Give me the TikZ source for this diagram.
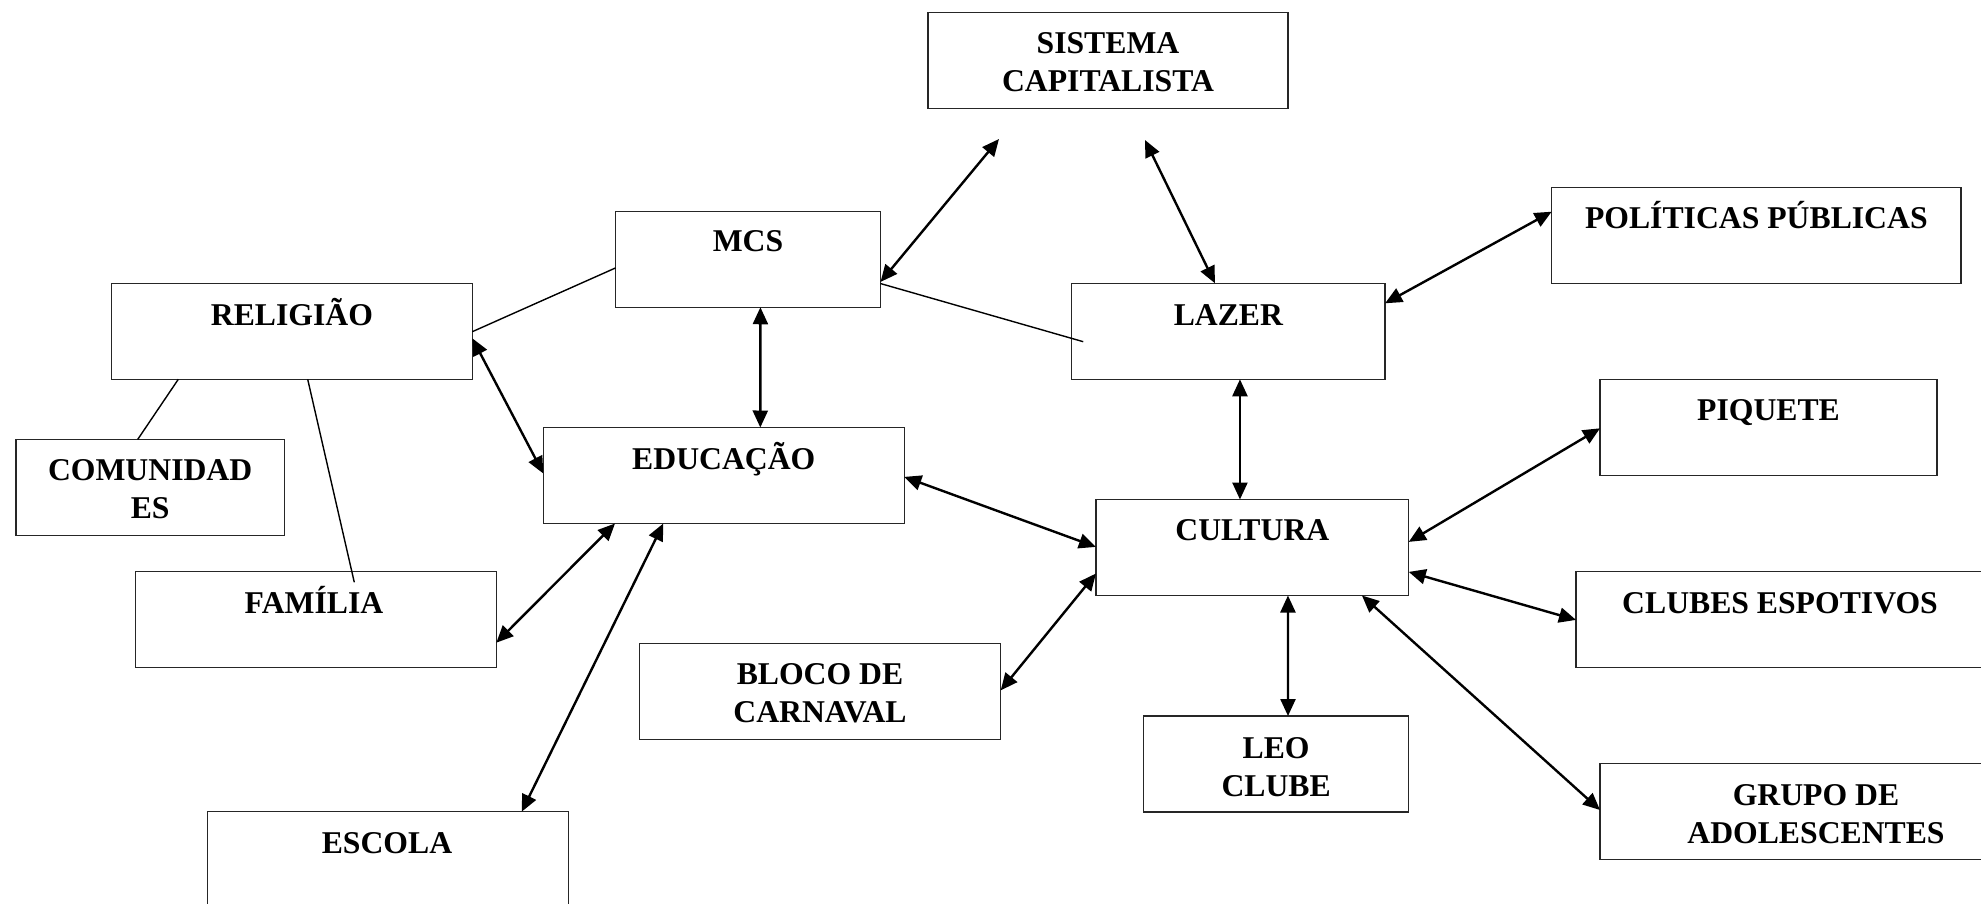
\documentclass[tikz,border=0pt]{standalone}
\usepackage{fontspec}
\setmainfont{Liberation Serif}
\usetikzlibrary{arrows.meta,calc}
\begin{document}
\begin{tikzpicture}[x={(0.5pt,0)},y={(0,-0.5pt)}]
\tikzset{
  box/.style={draw=black!85, line width=0.65pt, inner sep=0pt, outer sep=0pt, minimum height=48pt},
  lbl/.style={font=\fontsize{15.85}{19}\selectfont\bfseries, align=center, inner sep=0pt, anchor=base},
  dbl/.style={line width=1.2pt, {Triangle[length=8.5pt,width=7.5pt]}-{Triangle[length=8.5pt,width=7.5pt]}},
  ln/.style={line width=0.7pt},
}
\clip (0,0) rectangle (1981,904);
\fill[white] (0,0) rectangle (1981,904);

% boxes
\node[box, minimum width=180pt]   (sis) at (1108,60.75) {};
\node[box, minimum width=132.5pt] (mcs) at (748,259.25) {};
\node[box, minimum width=180.4pt] (rel) at (291.9,331.3) {};
\node[box, minimum width=156.7pt] (laz) at (1228.35,331.3) {};
\node[box, minimum width=204.7pt] (pol) at (1756.35,235.3) {};
\node[box, minimum width=168.5pt] (piq) at (1768.5,427.3) {};
\node[box, minimum width=134.2pt] (com) at (150.15,487.5) {};
\node[box, minimum width=180.5pt] (edu) at (723.8,475.5) {};
\node[box, minimum width=156.4pt] (cul) at (1252.35,547.5) {};
\node[box, minimum width=180.3pt] (fam) at (316,619.7) {};
\node[box, minimum width=204pt]   (clu) at (1780,619.6) {};
\node[box, minimum width=180.7pt] (blo) at (820,691.65) {};
\node[box, minimum width=132.5pt] (leo) at (1276.1,764) {};
\node[box, minimum width=216pt]   (gru) at (1816,811.3) {};
\node[box, minimum width=180.3pt] (esc) at (388,859.7) {};

% labels (two-line labels: base anchor is on the last line, 38px below the first)
\node[lbl] (sisT) at ($(sis.north)+(0,79)$) {SISTEMA\\CAPITALISTA};
\node[lbl] (mcsT) at ($(mcs.north)+(0,40.7)$) {MCS};
\node[lbl] (relT) at ($(rel.north)+(0,41.7)$) {RELIGIÃO};
\node[lbl] (lazT) at ($(laz.north)+(0,41.7)$) {LAZER};
\node[lbl] (polT) at ($(pol.north)+(0,41)$) {POLÍTICAS PÚBLICAS};
\node[lbl] (piqT) at ($(piq.north)+(0,40.7)$) {PIQUETE};
\node[lbl] (comT) at ($(com.north)+(0,79)$) {COMUNIDAD\\ES};
\node[lbl] (eduT) at ($(edu.north)+(0,42)$) {EDUCAÇÃO};
\node[lbl] (culT) at ($(cul.north)+(0,41.4)$) {CULTURA};
\node[lbl] (famT) at ($(fam.north)+(-2,41.6)$) {FAMÍLIA};
\node[lbl] (cluT) at ($(clu.north)+(0,41.6)$) {CLUBES ESPOTIVOS};
\node[lbl] (bloT) at ($(blo.north)+(0,79)$) {BLOCO DE\\CARNAVAL};
\node[lbl] (leoT) at ($(leo.north)+(0,80)$) {LEO\\CLUBE};
\node[lbl] (gruT) at ($(gru.north)+(0,80)$) {GRUPO DE\\ADOLESCENTES};
\node[lbl] (escT) at ($(esc.north)+(-1,41.6)$) {ESCOLA};

% free ends
\coordinate (s1) at (999,139);
\coordinate (s2) at (1145,140);

% connectors
\draw[dbl] ($(mcs.north east)+(0,70.7)$) -- (s1);
\draw[dbl] (s2) -- ($(laz.north west)+(143.3,0)$);
\draw[dbl] ($(mcs.south west)+(144.9,0)$) -- ($(edu.north west)+(217,0)$);
\draw[ln] ($(mcs.north west)+(0,56.7)$) -- ($(rel.north east)+(0,48.4)$);
\draw[ln] ($(mcs.north east)+(0,72.3)$) -- ($(laz.north west)+(11.6,58.4)$);
\draw[dbl] ($(rel.north east)+(0,55)$) -- ($(edu.north west)+(0,46)$);
\draw[ln] ($(rel.south west)+(66.8,0)$) -- ($(com.north west)+(121.7,0)$);
\draw[ln] ($(rel.south west)+(196.2,0)$) -- ($(fam.north west)+(218.6,10.6)$);
\draw[dbl] ($(edu.south west)+(71.7,0)$) -- ($(fam.north east)+(0,71)$);
\draw[dbl] ($(edu.south west)+(120,0)$) -- ($(esc.north west)+(314,0)$);
\draw[dbl] ($(edu.north east)+(0,49.4)$) -- ($(cul.north west)+(0,47.4)$);
\draw[dbl] ($(blo.north east)+(0,46.7)$) -- ($(cul.north west)+(0,74)$);
\draw[dbl] ($(laz.south west)+(168.3,0)$) -- ($(cul.north west)+(144,0)$);
\draw[dbl] ($(laz.north east)+(0,20)$) -- ($(pol.north west)+(0,24.4)$);
\draw[dbl] ($(cul.north east)+(0,42.4)$) -- ($(piq.north west)+(0,49)$);
\draw[dbl] ($(cul.north east)+(0,72.4)$) -- ($(clu.north west)+(0,48.3)$);
\draw[dbl] ($(cul.south west)+(192,0)$) -- ($(leo.north west)+(144.4,0)$);
\draw[dbl] ($(cul.south west)+(266,0)$) -- ($(gru.north west)+(0,46.7)$);
\end{tikzpicture}
\end{document}
